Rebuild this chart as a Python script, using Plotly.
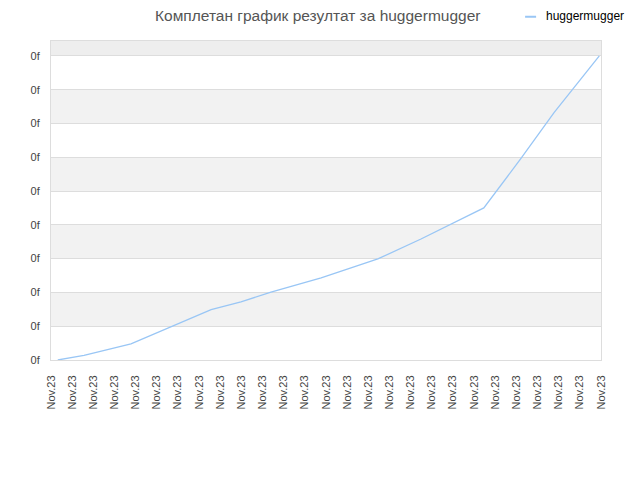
import plotly.graph_objects as go

# Data (x in tick steps, y in grid units)
player = 'huggermugger'
x_pos = [0.32, 1.56, 3.78, 5.67, 7.57, 8.98, 10.4, 12.77, 15.45, 17.49, 20.46, 22.2, 23.78, 25.92]
scores = [0.0, 0.14, 0.48, 0.98, 1.49, 1.72, 2.01, 2.43, 2.99, 3.58, 4.5, 5.95, 7.32, 9.0]
x_ticks = list(range(27))
x_labels = ['Nov.23'] * 27
y_ticks = list(range(10))
y_labels = ['0f'] * 10

y_top = 9.44
grid_col = '#dddddd'
line_col = '#99c6f5'

fig = go.Figure()

# alternating grey bands like the original
shapes = []
for i in range(1, 9, 2):
    shapes.append(dict(type='rect', xref='paper', yref='y', x0=0, x1=1, y0=i, y1=i + 1,
                       fillcolor='#f2f2f2', line_width=0, layer='below'))
shapes.append(dict(type='rect', xref='paper', yref='y', x0=0, x1=1, y0=9, y1=y_top,
                   fillcolor='#eeeeee', line_width=0, layer='below'))
# small legend swatch, top right
shapes.append(dict(type='line', xref='paper', yref='paper', x0=0.862, x1=0.882,
                   y0=1.076, y1=1.076, line=dict(color=line_col, width=2)))

fig.add_trace(go.Scatter(
    x=x_pos, y=scores, mode='lines', name=player,
    line=dict(color=line_col, width=1.3), showlegend=False,
))

fig.add_annotation(text=player, xref='paper', yref='paper', x=0.896, y=1.077,
                   xanchor='left', yanchor='middle', showarrow=False,
                   font=dict(size=12, color='#000'))

fig.update_layout(
    width=640, height=480,
    margin=dict(l=43, r=47, t=33, b=128, autoexpand=False),
    paper_bgcolor='white', plot_bgcolor='white',
    font=dict(family='Liberation Sans, Arial, sans-serif', size=11, color='#444'),
    title=dict(text='Комплетан график резултат за ' + player, x=0.484, xanchor='center',
               y=0.985, yanchor='middle', font=dict(size=15.5, color='#555')),
    shapes=shapes,
)

fig.update_xaxes(range=[0, 26], tickvals=x_ticks, ticktext=x_labels, tickangle=-90,
                 showgrid=False, zeroline=False, showline=True, linecolor=grid_col,
                 mirror=True, ticks='', ticklabelstandoff=10,
                 tickfont=dict(size=11, color='#444'))
fig.update_yaxes(range=[0, y_top], tickvals=y_ticks, ticktext=y_labels,
                 showgrid=True, gridcolor=grid_col, zeroline=False, showline=True,
                 linecolor=grid_col, mirror=True, ticks='', ticklabelstandoff=8,
                 tickfont=dict(size=11, color='#444'))

fig.write_html('out.html')
